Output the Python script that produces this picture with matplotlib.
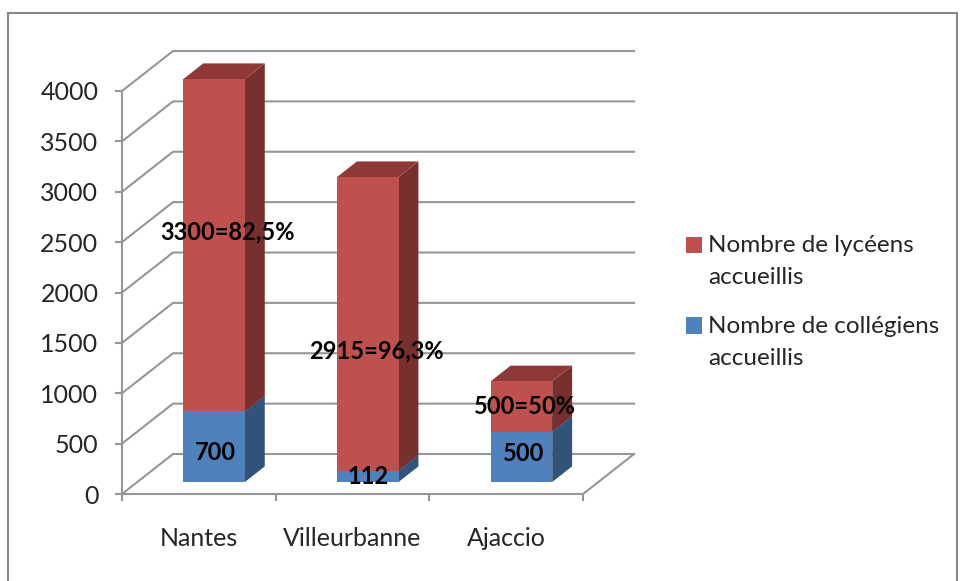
#stacked bars drawn by hand on a 2D axes, with a fake excel style depth
import matplotlib
matplotlib.use('Agg')
import matplotlib.pyplot as plt
from matplotlib.patches import Polygon, Patch, Rectangle
from matplotlib.legend_handler import HandlerPatch

cities = ['Nantes', 'Villeurbanne', 'Ajaccio']
colleges = [700, 112, 500]
lycees = [3300, 2915, 500]
college_labels = ['700', '112', '500']
lycee_labels = ['3300=82,5%', '2915=96,3%', '500=50%']
y_ticks = [0, 500, 1000, 1500, 2000, 2500, 3000, 3500, 4000]
series_names = ['Nombre de lycéens\naccueillis', 'Nombre de collégiens\naccueillis']

plt.rcParams['font.family'] = ['Lato', 'DejaVu Sans']
W, H = 963, 581
GRID = '#969696'
TEXT = '#262626'

fig = plt.figure(figsize=(W / 100, H / 100), dpi=100)
fig.add_artist(Rectangle((8 / W, -0.01), 949 / W, 1.01 - 13 / H, transform=fig.transFigure,
                         fill=False, ec='#868686', lw=1.5))
ax = fig.add_axes([122 / W, (H - 494) / H, 461 / W, 403 / H])
ax.set_xlim(0, 3)
ax.set_ylim(0, 4000)
ax.patch.set_visible(False)

#depth shift in data units
DX = 0.332
DY = 397


def proj(x, y, d):
    return (x + d * DX, y + d * DY)


def box(x0, x1, y0, y1, d0, d1, front, side, top):
    ax.add_patch(Polygon([proj(x1, y0, d0), proj(x1, y0, d1), proj(x1, y1, d1), proj(x1, y1, d0)],
                         fc=side, ec='none', zorder=3, clip_on=False))
    ax.add_patch(Polygon([proj(x0, y1, d0), proj(x1, y1, d0), proj(x1, y1, d1), proj(x0, y1, d1)],
                         fc=top, ec='none', zorder=3, clip_on=False))
    ax.add_patch(Polygon([proj(x0, y0, d0), proj(x1, y0, d0), proj(x1, y1, d0), proj(x0, y1, d0)],
                         fc=front, ec='none', zorder=3, clip_on=False))


#walls
for v in y_ticks:
    xs, ys = zip(proj(0, v, 0), proj(0, v, 1), proj(3, v, 1))
    ax.plot(xs, ys, color=GRID, lw=1.5, zorder=1, clip_on=False)
xs, ys = zip(proj(3, 0, 0), proj(3, 0, 1))
ax.plot(xs, ys, color=GRID, lw=1.5, zorder=1, clip_on=False)

#bars
for i in range(len(cities)):
    x0 = i + 0.3
    x1 = i + 0.7
    box(x0, x1, 0, colleges[i], 0.3, 0.69, '#4F81BD', '#325379', '#3A6190')
    box(x0, x1, colleges[i], colleges[i] + lycees[i], 0.3, 0.69, '#BE504D', '#78302E', '#8E3937')

#labels were moved by hand in the original, hence the offsets (points)
college_off = [(-6.5, -10), (-7, -6), (-5.5, -3.5)]
lycee_off = [(2, 4), (-1, -25), (-5, -6)]
for i in range(len(cities)):
    ax.annotate(college_labels[i], proj(i + 0.5, colleges[i] / 2, 0.5), xytext=college_off[i],
                textcoords='offset points', ha='center', va='center', fontsize=17,
                color='black', fontweight='bold', zorder=5, annotation_clip=False)
    ax.annotate(lycee_labels[i], proj(i + 0.5, colleges[i] + lycees[i] / 2, 0.5), xytext=lycee_off[i],
                textcoords='offset points', ha='center', va='center', fontsize=17,
                color='black', fontweight='bold', zorder=5, annotation_clip=False)

#axes
for s in ['top', 'right']:
    ax.spines[s].set_visible(False)
for s in ['left', 'bottom']:
    ax.spines[s].set_color(GRID)
    ax.spines[s].set_linewidth(1.5)
ax.set_yticks(y_ticks)
ax.tick_params(axis='y', length=5, width=1.5, color=GRID, labelsize=18, labelcolor=TEXT, pad=12)
for t in ax.get_yticklabels():
    t.set_verticalalignment('center_baseline')
ax.set_xticks(range(4))
ax.set_xticklabels([])
ax.tick_params(axis='x', which='major', length=5, width=1.5, color=GRID)
ax.set_xticks([i + 0.5 for i in range(3)], cities, minor=True)
ax.tick_params(axis='x', which='minor', length=0, labelsize=18, labelcolor=TEXT, pad=23.5)


#excel puts the legend key next to the first line of the label
def first_line_key(legend, orig_handle, xdescent, ydescent, width, height, fontsize):
    return Rectangle((-xdescent, -ydescent + 12), width, height)


handles = [Patch(fc='#BE504D', ec='none'), Patch(fc='#4F81BD', ec='none')]
leg = fig.legend(handles, series_names, loc='upper left', bbox_to_anchor=(686 / W, (H - 235) / H),
                 frameon=False, fontsize=17.5, labelcolor=TEXT, handlelength=0.66, handleheight=0.66,
                 handletextpad=0.25, labelspacing=1.14, borderpad=0, borderaxespad=0,
                 handler_map={Patch: HandlerPatch(patch_func=first_line_key)})
for t in leg.get_texts():
    t.set_linespacing(1.65)

fig.savefig('out.png', dpi=100)
